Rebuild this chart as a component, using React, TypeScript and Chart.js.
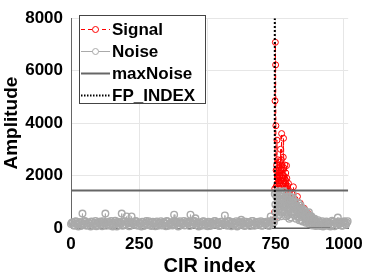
import React, { useEffect, useRef } from "react";
import { Chart, registerables } from "chart.js";

Chart.register(...registerables);

const xTicks = [0, 250, 500, 750, 1000];
const yTicks = [0, 2000, 4000, 6000, 8000];
const X_MAX = 1016;
const MAX_NOISE = 1430;
const FP_INDEX = 747;

// Signal (red)
const signalIdx = [
  745, 746, 747, 748, 749, 750, 751, 752, 753, 754, 755, 756, 757, 758, 759, 760,
  761, 762, 763, 764, 765, 766, 767, 768, 769, 770, 771, 772, 773, 774, 775, 776,
  777, 778, 779, 780, 781, 782, 783, 784, 785, 786, 787, 788, 789, 790, 791, 792,
  793, 794, 795, 796, 797, 798, 799, 800, 805, 810, 815, 820, 825, 830, 835, 840,
  845, 850, 855, 860, 865, 870, 875, 880, 885, 890, 895, 900,
];
const signalAmp = [
  300, 600, 1500, 4850, 7080, 6220, 3900, 2200, 1600, 2400, 3350, 2000, 1700, 2600, 1900, 1500,
  2300, 1800, 2100, 2500, 1700, 2000, 1600, 3000, 2200, 1800, 2600, 3600, 2400, 1900, 2200, 1700,
  2000, 2700, 3420, 2300, 1800, 1600, 1900, 2400, 1700, 1500, 2100, 1800, 1600, 2380, 1900, 1500,
  1300, 1600, 1200, 1400, 1700, 1300, 1100, 1200, 1000, 1300, 1570, 1100, 900, 1200, 800, 950,
  700, 600, 750, 500, 400, 550, 300, 400, 250, 300, 150, 200,
];

// Noise (gray) before first path: indices 0, 6, 12, ... 744
const noiseBaseStart = 0;
const noiseBaseStep = 6;
const noiseBaseAmp = [
  150, 220, 90, 260, 130, 200, 80, 550, 170, 240, 110, 190, 60, 230, 140, 270,
  100, 180, 250, 70, 210, 550, 150, 240, 90, 200, 130, 280, 60, 190, 230, 550,
  120, 260, 440, 170, 80, 440, 210, 140, 250, 100, 190, 60, 230, 150, 270, 110,
  200, 80, 240, 160, 220, 90, 180, 260, 120, 200, 70, 250, 140, 210, 100, 510,
  180, 240, 80, 200, 150, 270, 110, 190, 230, 510, 130, 250, 370, 170, 60, 220,
  140, 260, 100, 190, 240, 80, 210, 150, 270, 120, 200, 90, 230, 160, 480, 110,
  250, 180, 70, 220, 140, 260, 100, 200, 310, 150, 80, 240, 170, 210, 120, 270,
  90, 190, 230, 140, 260, 100, 210, 160, 250, 80, 440, 180, 220,
];
// Noise before first path: indices 3, 9, 15, ... 741
const noiseBase2Start = 3;
const noiseBase2Amp = [
  200, 110, 240, 170, 60, 230, 150, 120, 270, 90, 210, 160, 250, 100, 190, 70,
  230, 140, 120, 260, 180, 90, 220, 130, 270, 60, 200, 150, 240, 110, 180, 90,
  250, 140, 210, 70, 230, 160, 120, 270, 100, 200, 150, 240, 80, 190, 130, 260,
  110, 220, 170, 70, 250, 140, 200, 100, 230, 160, 270, 90, 180, 130, 240, 110,
  210, 60, 260, 150, 190, 100, 240, 170, 80, 220, 140, 270, 110, 200, 150, 90,
  250, 130, 190, 70, 230, 160, 110, 260, 140, 210, 80, 240, 170, 120, 200, 90,
  270, 150, 220, 110, 180, 60, 240, 130, 190, 250, 100, 160, 220, 80, 270, 140,
  200, 110, 240, 170, 90, 230, 150, 190, 120, 260, 200, 300,
];

// Noise tail after first path
const noiseTailIdx = [
  747, 750, 753, 756, 759, 762, 765, 768, 771, 774, 777, 780, 783, 786, 789, 792,
  795, 798, 801, 804, 807, 810, 813, 816, 819, 822, 825, 828, 831, 834, 837, 840,
  843, 846, 849, 852, 855, 858, 861, 864, 867, 870, 873, 876, 879, 882, 885, 888,
  891, 894, 897, 900, 903, 906, 912, 918, 924, 930, 936, 942, 948, 954, 960, 966,
  972, 978, 984, 990, 996, 1002, 1008, 1014,
];
const noiseTailAmp = [
  1300, 600, 1200, 800, 1400, 500, 1100, 1350, 700, 1250, 900, 1400, 600, 1150, 850, 1300,
  500, 1050, 750, 1200, 400, 950, 1300, 650, 900, 1000, 350, 800, 600, 950, 300, 700,
  500, 750, 250, 600, 400, 650, 200, 550, 300, 500, 150, 450, 250, 400, 100, 350,
  200, 300, 80, 250, 150, 300, 100, 220, 60, 180, 250, 90, 200, 130, 240, 70,
  190, 400, 150, 220, 100, 260, 120, 260,
];
const noiseTail2Idx = [
  749, 752, 755, 758, 761, 764, 767, 770, 773, 776, 779, 782, 785, 788, 791, 794,
  797, 800, 803, 806, 809, 812, 815, 818, 821, 824, 827, 830, 833, 836, 839, 842,
  845, 848, 851, 854, 857, 860, 863, 866, 869, 872, 875, 878, 881, 884, 887, 890,
  893, 896, 899, 902, 905, 909, 915, 921, 927, 933, 939, 945, 951, 957, 963, 969,
  975, 981, 987, 993, 999, 1005, 1011,
];
const noiseTail2Amp = [
  900, 1350, 400, 1000, 700, 1250, 900, 450, 1100, 600, 1300, 800, 1000, 450, 1200, 700,
  1100, 350, 900, 1050, 600, 1150, 800, 500, 1000, 700, 850, 450, 750, 400, 650, 850,
  300, 600, 450, 700, 350, 550, 250, 500, 400, 600, 200, 350, 450, 150, 300, 200,
  350, 120, 250, 180, 100, 200, 80, 260, 150, 100, 220, 170, 60, 280, 140, 200,
  110, 250, 180, 90, 230, 160, 200,
];

// dark segment at zero level
const zeroIdx = [750, 950];
const zeroAmp = [0, 0];

const FONT = "'Liberation Sans', Arial, sans-serif";

const legendPlugin = {
  id: "matlabLegend",
  afterDraw(chart: any) {
    const ctx = chart.ctx;
    const bx = 79, by = 15, bw = 127, bh = 89;
    ctx.save();
    ctx.fillStyle = "#ffffff";
    ctx.fillRect(bx, by, bw, bh);
    ctx.strokeStyle = "#444444";
    ctx.lineWidth = 1;
    ctx.setLineDash([]);
    ctx.strokeRect(bx + 0.5, by + 0.5, bw - 1, bh - 1);
    const rows = [29, 51, 73, 95];
    const items = [
      { label: "Signal", color: "#ff0000", width: 1, dash: [4, 3], marker: true },
      { label: "Noise", color: "#aaaaaa", width: 1, dash: [], marker: true },
      { label: "maxNoise", color: "#666666", width: 2, dash: [], marker: false },
      { label: "FP_INDEX", color: "#000000", width: 2, dash: [1.5, 1.5], marker: false },
    ];
    items.forEach((it, i) => {
      const y = rows[i];
      ctx.strokeStyle = it.color;
      ctx.lineWidth = it.width;
      ctx.setLineDash(it.dash);
      ctx.beginPath();
      ctx.moveTo(81, y + 0.5);
      ctx.lineTo(110, y + 0.5);
      ctx.stroke();
      ctx.setLineDash([]);
      if (it.marker) {
        ctx.fillStyle = "#ffffff";
        ctx.lineWidth = 1;
        ctx.beginPath();
        ctx.arc(95.5, y + 0.5, 3, 0, Math.PI * 2);
        ctx.fill();
        ctx.stroke();
      }
      ctx.fillStyle = "#000000";
      ctx.font = `bold 17px ${FONT}`;
      ctx.textBaseline = "middle";
      ctx.textAlign = "left";
      ctx.fillText(it.label, 112, y + 1);
    });
    ctx.restore();
  },
};

export default function App() {
  const ref = useRef<HTMLCanvasElement>(null);

  useEffect(() => {
    const base = [
      ...noiseBaseAmp.map((y, i) => ({ x: noiseBaseStart + i * noiseBaseStep, y })),
      ...noiseBase2Amp.map((y, i) => ({ x: noiseBase2Start + i * noiseBaseStep, y })),
      ...noiseTailIdx.map((x, i) => ({ x, y: noiseTailAmp[i] })),
      ...noiseTail2Idx.map((x, i) => ({ x, y: noiseTail2Amp[i] })),
    ];
    const noiseData = base.sort((a, b) => a.x - b.x);
    const signalData = signalIdx.map((x, i) => ({ x, y: signalAmp[i] }));
    const tickFont = { family: FONT, size: 17, weight: "bold" as const };
    const chart = new Chart(ref.current!, {
      type: "scatter",
      data: {
        datasets: [
          {
            label: "zero",
            data: zeroIdx.map((x, i) => ({ x, y: zeroAmp[i] })),
            showLine: true,
            borderColor: "#555555",
            borderWidth: 1,
            pointRadius: 0,
            order: 0,
          },
          {
            label: "FP_INDEX",
            data: [
              { x: FP_INDEX, y: yTicks[0] },
              { x: FP_INDEX, y: yTicks[yTicks.length - 1] },
            ],
            showLine: true,
            borderColor: "#000000",
            borderWidth: 2,
            borderDash: [2, 2],
            pointRadius: 0,
            order: 1,
          },
          {
            label: "maxNoise",
            data: [
              { x: 0, y: MAX_NOISE },
              { x: X_MAX, y: MAX_NOISE },
            ],
            showLine: true,
            borderColor: "#666666",
            borderWidth: 2,
            pointRadius: 0,
            order: 2,
          },
          {
            label: "Noise",
            data: noiseData,
            showLine: true,
            borderColor: "#aaaaaa",
            borderWidth: 1,
            pointRadius: 3.3,
            pointBorderWidth: 1.4,
            pointBorderColor: "#aaaaaa",
            pointBackgroundColor: "rgba(0,0,0,0)",
            clip: false as any,
            order: 3,
          },
          {
            label: "Signal",
            data: signalData,
            showLine: true,
            borderColor: "#ff0000",
            borderWidth: 1,
            borderDash: [4, 3],
            pointRadius: 3,
            pointBorderWidth: 1,
            pointBorderColor: "#ff0000",
            pointBackgroundColor: "rgba(0,0,0,0)",
            clip: false as any,
            order: 4,
          },
        ],
      },
      options: {
        animation: false,
        responsive: false,
        devicePixelRatio: 1,
        layout: { padding: { left: 0, right: 17, top: 10, bottom: 0 } },
        plugins: {
          legend: { display: false },
          tooltip: { enabled: false },
        },
        scales: {
          x: {
            type: "linear",
            min: 0,
            max: X_MAX,
            afterBuildTicks: (s: any) => {
              s.ticks = xTicks.map((v) => ({ value: v }));
            },
            afterFit: (s: any) => {
              s.height = 51;
            },
            grid: { color: "#e6e6e6", drawTicks: false, lineWidth: 1 },
            border: { display: true, color: "#666666" },
            ticks: {
              color: "#000000",
              font: tickFont,
              padding: 6,
              maxRotation: 0,
              callback: (v: any) => String(v),
            },
            title: {
              display: true,
              text: "CIR index",
              color: "#000000",
              font: { family: FONT, size: 20, weight: "bold" },
              padding: { top: 0, bottom: 1 },
            },
          },
          y: {
            type: "linear",
            min: 0,
            max: 8000,
            afterBuildTicks: (s: any) => {
              s.ticks = yTicks.map((v) => ({ value: v }));
            },
            afterFit: (s: any) => {
              s.width = 71;
            },
            grid: { color: "#e6e6e6", drawTicks: false, lineWidth: 1 },
            border: { display: true, color: "#666666" },
            ticks: {
              color: "#000000",
              font: tickFont,
              padding: 8,
              callback: (v: any) => String(v),
            },
            title: {
              display: true,
              text: "Amplitude",
              color: "#000000",
              font: { family: FONT, size: 19, weight: "bold" },
              padding: { top: 0, bottom: 0 },
            },
          },
        },
      },
      plugins: [legendPlugin],
    });
    return () => chart.destroy();
  }, []);

  return (
    <div style={{ position: "absolute", left: 0, top: 0, width: 369, height: 279 }}>
      <canvas ref={ref} width={369} height={279} style={{ display: "block" }} />
    </div>
  );
}
